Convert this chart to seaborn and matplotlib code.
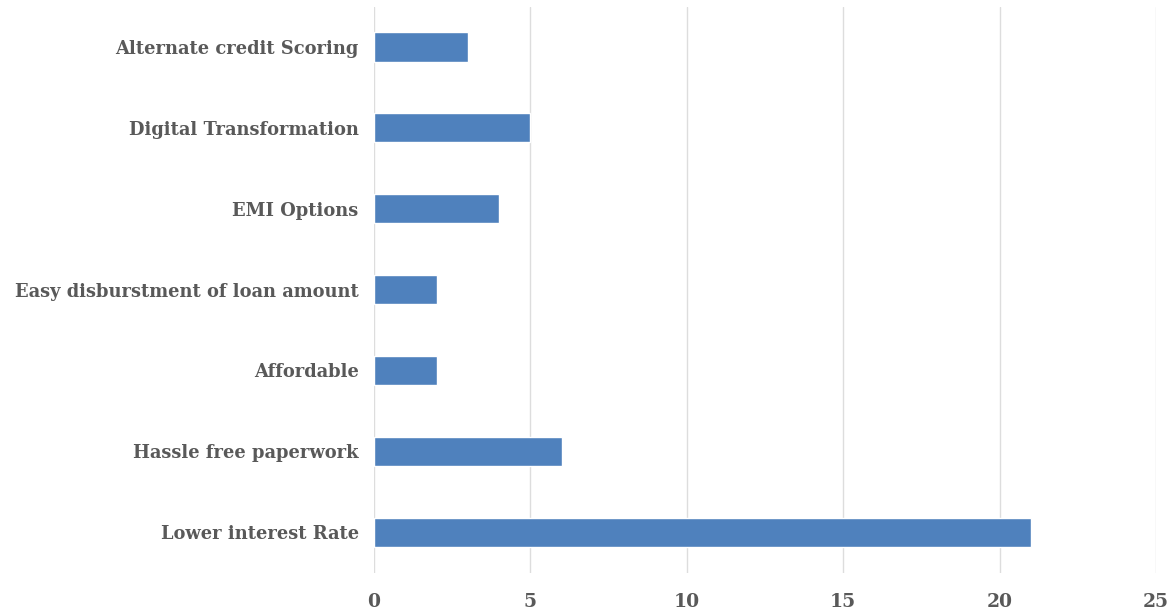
import matplotlib
matplotlib.use("Agg")
import matplotlib.pyplot as plt
import seaborn as sns
import pandas as pd

categories = ["Alternate credit Scoring", "Digital Transformation", "EMI Options",
              "Easy disburstment of loan amount", "Affordable", "Hassle free paperwork",
              "Lower interest Rate"]
values = [3, 5, 4, 2, 2, 6, 21]
xticks = [0, 5, 10, 15, 20, 25]

sns.set_theme(style="white")
plt.rcParams['font.family'] = ['DejaVu Serif']

df = pd.DataFrame({"cat": categories, "val": values})

fig = plt.figure(figsize=(11.71, 6.12), dpi=100)
ax = fig.add_axes([374/1171, 1 - 572.6/612, (1156-374)/1171, (572.6-6.6)/612])
sns.barplot(data=df, x="val", y="cat", orient="h", color="#4F81BD", saturation=1,
            width=0.36, ax=ax, zorder=3)
ax.set_xlim(0, 25)
ax.set_ylim(6.5, -0.5)
ax.set_xticks(xticks)
ax.set_xticklabels([str(t) for t in xticks])
ax.xaxis.grid(True, color="#DDDDDD", linewidth=1.0, zorder=0)
ax.yaxis.grid(False)
for s in ax.spines.values():
    s.set_visible(False)
ax.set_xlabel("")
ax.set_ylabel("")
ax.tick_params(axis="both", length=0)
ax.tick_params(axis="y", pad=11)
ax.tick_params(axis="x", pad=15)
for lab in ax.get_yticklabels():
    lab.set_fontsize(12.9)
    lab.set_fontweight("bold")
    lab.set_color("#595959")
for lab in ax.get_xticklabels():
    lab.set_fontsize(13.5)
    lab.set_fontweight("bold")
    lab.set_color("#595959")
fig.savefig("out.png", dpi=100)
